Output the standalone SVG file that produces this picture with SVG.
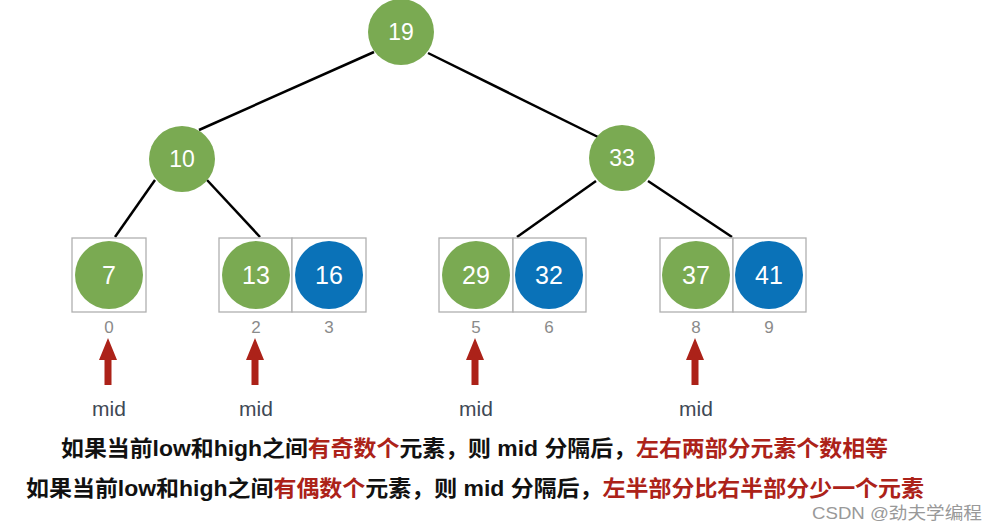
<svg xmlns="http://www.w3.org/2000/svg" width="998" height="531" viewBox="0 0 998 531">
<style>
.g{fill:#7aaa52}
.b{fill:#0a72b8}
.num{font-family:"Liberation Sans",Arial,sans-serif;fill:#fff;text-anchor:middle}
.big{font-size:25px}
.mid{font-size:23px}
.box{fill:#fff;stroke:#b0b0b0;stroke-width:1.3}
.idx{font-family:"Liberation Sans",Arial,sans-serif;font-size:17px;fill:#8a8a8a;text-anchor:middle}
.edge{stroke:#000;stroke-width:2.5;fill:none}
.arr{fill:#ac2219}
.lbl{font-family:"Liberation Sans",Arial,sans-serif;font-size:21px;fill:#404854;text-anchor:middle}
.t{font-family:"Liberation Sans","Noto Sans CJK SC",sans-serif;font-size:22px;font-weight:bold;fill:#111}
.r{fill:#ac2219}
</style>
<rect width="998" height="531" fill="#fff"/>
<g id="connectors">
<line class="edge" x1="374" y1="52" x2="199" y2="130"/>
<line class="edge" x1="428" y1="53" x2="598" y2="137"/>
<line class="edge" x1="155" y1="180" x2="115" y2="237"/>
<line class="edge" x1="207" y1="180" x2="260" y2="237"/>
<line class="edge" x1="596" y1="181" x2="517" y2="237"/>
<line class="edge" x1="648" y1="181" x2="732" y2="237"/>
</g>
<g id="n19"><circle class="g" cx="401" cy="32" r="33"/><text class="num mid" x="401" y="40">19</text></g>
<g id="n10"><circle class="g" cx="182" cy="159" r="33"/><text class="num mid" x="182" y="167">10</text></g>
<g id="n33"><circle class="g" cx="622" cy="158" r="33"/><text class="num mid" x="622" y="166">33</text></g>
<g id="leaf0"><rect class="box" x="72" y="238" width="74" height="74"/><circle class="g" cx="109" cy="275" r="34"/><text class="num big" x="109" y="284">7</text><text class="idx" x="109" y="333">0</text></g>
<g id="leaf2"><rect class="box" x="219" y="238" width="73" height="74"/><circle class="g" cx="256" cy="275" r="34"/><text class="num big" x="256" y="284">13</text><text class="idx" x="256" y="333">2</text></g>
<g id="leaf3"><rect class="box" x="292" y="238" width="74" height="74"/><circle class="b" cx="329" cy="275" r="34"/><text class="num big" x="329" y="284">16</text><text class="idx" x="329" y="333">3</text></g>
<g id="leaf5"><rect class="box" x="439" y="238" width="74" height="74"/><circle class="g" cx="476" cy="275" r="34"/><text class="num big" x="476" y="284">29</text><text class="idx" x="476" y="333">5</text></g>
<g id="leaf6"><rect class="box" x="513" y="238" width="73" height="74"/><circle class="b" cx="549" cy="275" r="34"/><text class="num big" x="549" y="284">32</text><text class="idx" x="549" y="333">6</text></g>
<g id="leaf8"><rect class="box" x="660" y="238" width="73" height="74"/><circle class="g" cx="696" cy="275" r="34"/><text class="num big" x="696" y="284">37</text><text class="idx" x="696" y="333">8</text></g>
<g id="leaf9"><rect class="box" x="733" y="238" width="73" height="74"/><circle class="b" cx="769" cy="275" r="34"/><text class="num big" x="769" y="284">41</text><text class="idx" x="769" y="333">9</text></g>
<g id="mid0"><polygon class="arr" points="108,338 117,360 111.5,360 111.5,385 104.5,385 104.5,360 99,360"/><text class="lbl" x="109" y="416">mid</text></g>
<g id="mid2"><polygon class="arr" points="255,338 264,360 258.5,360 258.5,385 251.5,385 251.5,360 246,360"/><text class="lbl" x="256" y="416">mid</text></g>
<g id="mid5"><polygon class="arr" points="475,338 484,360 478.5,360 478.5,385 471.5,385 471.5,360 466,360"/><text class="lbl" x="476" y="416">mid</text></g>
<g id="mid8"><polygon class="arr" points="695,338 704,360 698.5,360 698.5,385 691.5,385 691.5,360 686,360"/><text class="lbl" x="696" y="416">mid</text></g>
<text class="t" x="61" y="456" textLength="827" lengthAdjust="spacingAndGlyphs">如果当前low和high之间<tspan class="r">有奇数个</tspan>元素，则 mid 分隔后，<tspan class="r">左右两部分元素个数相等</tspan></text>
<text class="t" x="26" y="496" textLength="898" lengthAdjust="spacingAndGlyphs">如果当前low和high之间<tspan class="r">有偶数个</tspan>元素，则 mid 分隔后，<tspan class="r">左半部分比右半部分少一个元素</tspan></text>
<text x="812" y="519" font-family="Liberation Sans,'Noto Sans CJK SC',sans-serif" font-size="17" fill="#999" textLength="170" lengthAdjust="spacingAndGlyphs">CSDN @劲夫学编程</text>
</svg>
